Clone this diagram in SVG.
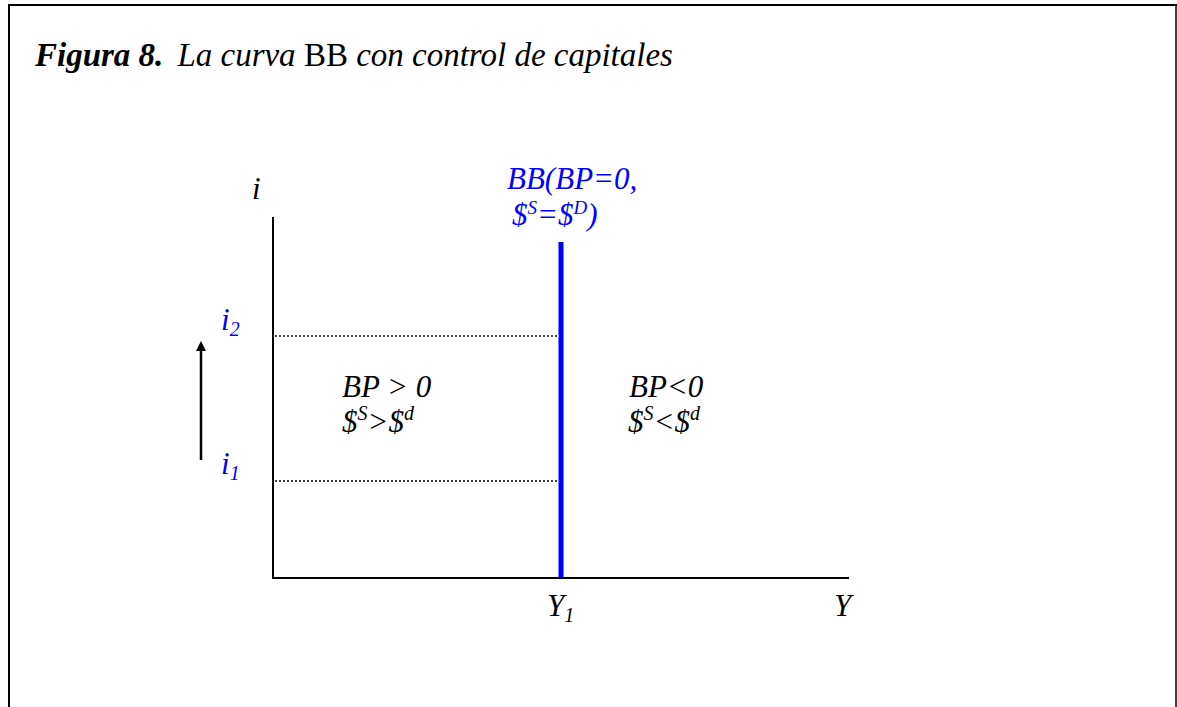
<svg xmlns="http://www.w3.org/2000/svg" width="1177" height="707" viewBox="0 0 1177 707">
<defs>
<style>
.t{font-family:"Liberation Serif","Times New Roman",serif;font-size:31px;font-style:italic;fill:#000}
.ttl{font-size:33px}
.b{fill:#0000ff}
.ax{stroke:#000;stroke-width:2;fill:none}
.dot{stroke:#000;stroke-width:1.5;stroke-dasharray:2 2;fill:none}
</style>
<marker id="ah" markerWidth="10" markerHeight="10" refX="5" refY="5" orient="auto" markerUnits="userSpaceOnUse" viewBox="0 0 10 10">
<path d="M0,0 L10,5 L0,10 z" fill="#000"/>
</marker>
</defs>
<rect width="1177" height="707" fill="#fff"/>
<g id="frame">
<polyline points="9,707 9,5 1177,5" class="ax" stroke-width="2.5"/>
<line x1="1176" y1="5" x2="1176" y2="707" stroke="#000" stroke-width="1.5"/>
</g>
<g id="title">
<text x="35" y="66" class="t ttl"><tspan font-weight="bold">Figura 8.</tspan><tspan dx="14">La curva </tspan><tspan font-style="normal">BB</tspan> con control de capitales</text>
</g>
<g id="connectors">
<line x1="273" y1="217" x2="273" y2="579" class="ax"/>
<line x1="272" y1="578" x2="849" y2="578" class="ax"/>
<line x1="275" y1="336" x2="558" y2="336" class="dot"/>
<line x1="275" y1="481" x2="558" y2="481" class="dot"/>
<line x1="201" y1="460" x2="201" y2="346" stroke="#000" stroke-width="2.5" marker-end="url(#ah)"/>
</g>
<g id="bb-curve">
<line x1="561" y1="242" x2="561" y2="578" stroke="#0000ff" stroke-width="5"/>
<text x="507" y="189" class="t b">BB(BP=0,</text>
<text x="512" y="225" class="t b">$<tspan font-size="19" dy="-11">S</tspan><tspan dy="11">=$</tspan><tspan font-size="19" dy="-11">D</tspan><tspan dy="11">)</tspan></text>
</g>
<g id="axis-i"><text x="252" y="199" class="t">i</text></g>
<g id="i2"><text x="221" y="330" class="t b">i<tspan font-size="20" dy="6">2</tspan></text></g>
<g id="i1"><text x="221" y="474" class="t b">i<tspan font-size="20" dy="6">1</tspan></text></g>
<g id="region-left">
<text x="342" y="397" class="t">BP &gt; 0</text>
<text x="342" y="432" class="t">$<tspan font-size="20" dy="-12">S</tspan><tspan dy="12">&gt;$</tspan><tspan font-size="20" dy="-12">d</tspan></text>
</g>
<g id="region-right">
<text x="629" y="397" class="t">BP&lt;0</text>
<text x="628" y="432" class="t">$<tspan font-size="20" dy="-12">S</tspan><tspan dy="12">&lt;$</tspan><tspan font-size="20" dy="-12">d</tspan></text>
</g>
<g id="axis-y1"><text x="547" y="616" class="t">Y<tspan font-size="20" dy="6">1</tspan></text></g>
<g id="axis-y"><text x="834" y="616" class="t">Y</text></g>
</svg>
